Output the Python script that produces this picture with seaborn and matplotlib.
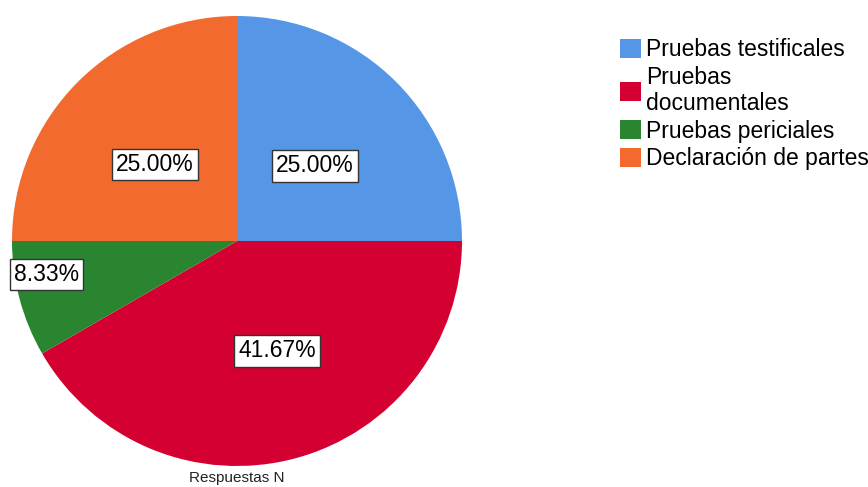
import matplotlib
matplotlib.use("Agg")
import numpy as np
import matplotlib.pyplot as plt
import seaborn as sns

categories = ["Pruebas testificales", "Pruebas\ndocumentales", "Pruebas periciales", "Declaración de partes"]
percentages = [25.00, 41.67, 8.33, 25.00]
colors = ["#5597E6", "#D50032", "#2A8530", "#F26A2E"]
# percent label placement: fraction of radius and angle shift from wedge middle
label_dist = [0.48, 0.52, 0.86, 0.50]
label_shift = [-1, 5, -5, 2]

sns.set_theme(style="white")
plt.rcParams["font.family"] = ["Liberation Sans", "DejaVu Sans"]
plt.rcParams["text.color"] = "black"

fig = plt.figure(figsize=(8.68, 4.87), dpi=100)
ax = fig.add_axes([12 / 868, 21 / 487, 450 / 868, 450 / 487])

wedges, texts, autotexts = ax.pie(
    percentages, colors=colors, startangle=90, counterclock=False,
    autopct=lambda p: f"{p:.2f}%", pctdistance=0.5, radius=1,
    wedgeprops=dict(linewidth=0),
    textprops=dict(fontsize=16.5, color="black"),
)
for w, t, d, s in zip(wedges, autotexts, label_dist, label_shift):
    ang = np.deg2rad((w.theta1 + w.theta2) / 2 + s)
    t.set_position((d * np.cos(ang), d * np.sin(ang)))
    t.set_bbox(dict(facecolor="white", edgecolor="#333333", linewidth=1, pad=3))

ax.set_xlim(-1, 1)
ax.set_ylim(-1, 1)
ax.set_aspect("equal")
ax.axis("off")

fig.text(237 / 868, 1 - 478 / 487, "Respuestas N", ha="center", va="center",
         fontsize=11, color="#222222")

fig.legend(wedges, categories, loc="upper left", bbox_to_anchor=(620 / 868, 1 - 38 / 487),
           frameon=False, fontsize=16.5, handlelength=0.9, handleheight=0.9,
           handletextpad=0.25, labelspacing=0.2, borderpad=0, borderaxespad=0)

fig.savefig("out.png", dpi=100)
